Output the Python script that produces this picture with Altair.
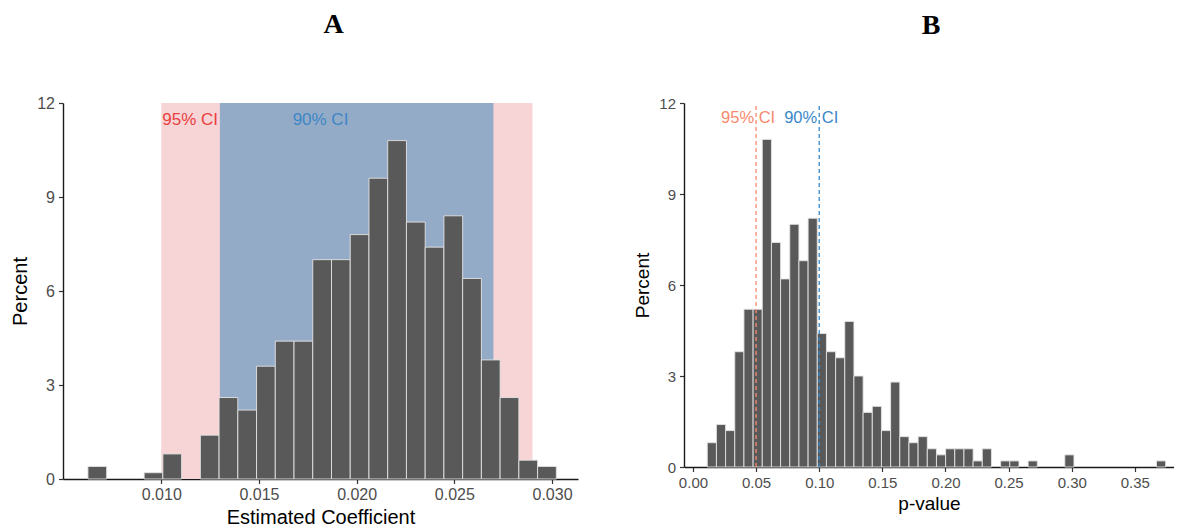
import altair as alt
import pandas as pd

# ---------------- Panel A: estimated coefficient ----------------
a_bin_start = 0.006246
a_bin_width = 0.000959
a_percent = [0.4, 0.0, 0.0, 0.2, 0.8, 0.0, 1.4, 2.6, 2.2, 3.6, 4.4, 4.4, 7.0,
             7.0, 7.8, 9.6, 10.8, 8.2, 7.4, 8.4, 6.4, 3.8, 2.6, 0.6, 0.4]
a_ci_labels = ["95% CI", "90% CI"]
a_ci_low = [0.010, 0.013]
a_ci_high = [0.029, 0.027]
a_ci_fill = ["#F7D4D5", "#94ABC8"]
a_ci_text_color = ["#E8413F", "#3D87C5"]
a_ci_text_x = [0.010, 0.01815]
a_x_ticks = [0.010, 0.015, 0.020, 0.025, 0.030]
a_x_domain = [0.00497, 0.03133]

# ---------------- Panel B: p-value ----------------
b_bin_start = 0.01133
b_bin_width = 0.007261
b_percent = [0.8, 1.4, 1.2, 3.8, 5.2, 5.2, 10.8, 7.4, 6.2, 8.0, 6.8, 8.2, 4.4,
             3.8, 3.6, 4.8, 3.0, 1.8, 2.0, 1.2, 2.8, 1.0, 0.8, 1.0, 0.6, 0.4,
             0.6, 0.6, 0.6, 0.2, 0.6, 0.0, 0.2, 0.2, 0.0, 0.2, 0.0, 0.0, 0.0,
             0.4, 0.0, 0.0, 0.0, 0.0, 0.0, 0.0, 0.0, 0.0, 0.0, 0.2]
b_ci_labels = ["95% CI", "90% CI"]
b_ci_cut = [0.05, 0.10]
b_ci_color = ["#F8896E", "#3A88C8"]
b_x_ticks = [0.00, 0.05, 0.10, 0.15, 0.20, 0.25, 0.30, 0.35]
b_x_domain = [-0.0071, 0.381]

y_ticks = [0, 3, 6, 9, 12]
y_max = 12

BAR_FILL = "#595959"
BAR_STROKE = "#E3E3E3"

# ---------- build tables ----------
dfa = pd.DataFrame({
    "lo": [a_bin_start + i * a_bin_width for i in range(len(a_percent))],
    "hi": [a_bin_start + (i + 1) * a_bin_width for i in range(len(a_percent))],
    "pct": a_percent,
})
dfa = dfa[dfa.pct > 0]
dfa["zero"] = 0.0

dfa_ci = pd.DataFrame({"label": a_ci_labels, "lo": a_ci_low, "hi": a_ci_high,
                       "fill": a_ci_fill, "y0": 0.0, "y1": float(y_max)})
dfa_txt = pd.DataFrame({"label": a_ci_labels, "x": a_ci_text_x,
                        "color": a_ci_text_color, "y": 11.45})

dfb = pd.DataFrame({
    "lo": [b_bin_start + i * b_bin_width for i in range(len(b_percent))],
    "hi": [b_bin_start + (i + 1) * b_bin_width for i in range(len(b_percent))],
    "pct": b_percent,
})
dfb = dfb[dfb.pct > 0]
dfb["zero"] = 0.0

dfb_ci = pd.DataFrame({"label": b_ci_labels, "x": b_ci_cut, "color": b_ci_color,
                       "y0": 0.0, "y1": float(y_max), "y": 11.5})

# ---------- Panel A ----------
a_xscale = alt.Scale(domain=a_x_domain, nice=False, zero=False)
a_yscale = alt.Scale(domain=[0, y_max], nice=False)
a_xaxis = alt.Axis(values=a_x_ticks, format=".3f", title="Estimated Coefficient",
                   labelFontSize=16, titleFontSize=20, labelPadding=3,
                   titlePadding=5)
a_yaxis = alt.Axis(values=y_ticks, title="Percent", labelFontSize=16,
                   titleFontSize=20, labelPadding=4, titlePadding=6)

a_shade = alt.Chart(dfa_ci).mark_rect().encode(
    x=alt.X("lo:Q", scale=a_xscale, axis=a_xaxis),
    x2="hi:Q",
    y=alt.Y("y0:Q", scale=a_yscale, axis=a_yaxis),
    y2="y1:Q",
    color=alt.Color("fill:N", scale=None),
)
a_bars = alt.Chart(dfa).mark_rect(fill=BAR_FILL, stroke=BAR_STROKE,
                                  strokeWidth=0.9).encode(
    x=alt.X("lo:Q", scale=a_xscale, axis=a_xaxis),
    x2="hi:Q",
    y=alt.Y("pct:Q", scale=a_yscale, axis=a_yaxis),
    y2="zero:Q",
)
a_text_left = alt.Chart(dfa_txt.iloc[[0]]).mark_text(
    align="left", baseline="middle", fontSize=17, font="Liberation Sans",
    dx=1).encode(
    x=alt.X("x:Q", scale=a_xscale),
    y=alt.Y("y:Q", scale=a_yscale),
    text="label:N",
    color=alt.Color("color:N", scale=None),
)
a_text_mid = alt.Chart(dfa_txt.iloc[[1]]).mark_text(
    align="center", baseline="middle", fontSize=17,
    font="Liberation Sans").encode(
    x=alt.X("x:Q", scale=a_xscale),
    y=alt.Y("y:Q", scale=a_yscale),
    text="label:N",
    color=alt.Color("color:N", scale=None),
)
panel_a = alt.layer(a_shade, a_bars, a_text_left, a_text_mid).properties(
    width=515, height=376,
    title=alt.TitleParams("A", dx=13),
)

# ---------- Panel B ----------
b_xscale = alt.Scale(domain=b_x_domain, nice=False, zero=False)
b_yscale = alt.Scale(domain=[0, y_max], nice=False)
b_xaxis = alt.Axis(values=b_x_ticks, format=".2f", title="p-value",
                   labelFontSize=15, titleFontSize=19, labelPadding=4,
                   titlePadding=4)
b_yaxis = alt.Axis(values=y_ticks, title="Percent", labelFontSize=15,
                   titleFontSize=19, labelPadding=4, titlePadding=6)

b_bars = alt.Chart(dfb).mark_rect(fill=BAR_FILL, stroke=BAR_STROKE,
                                  strokeWidth=0.9).encode(
    x=alt.X("lo:Q", scale=b_xscale, axis=b_xaxis),
    x2="hi:Q",
    y=alt.Y("pct:Q", scale=b_yscale, axis=b_yaxis),
    y2="zero:Q",
)
b_lines = alt.Chart(dfb_ci).mark_rule(strokeDash=[4, 3], strokeWidth=1.3).encode(
    x=alt.X("x:Q", scale=b_xscale),
    y=alt.Y("y0:Q", scale=b_yscale),
    y2="y1:Q",
    color=alt.Color("color:N", scale=None),
)
b_text = alt.Chart(dfb_ci).mark_text(
    align="center", baseline="middle", fontSize=16.5, font="Liberation Sans",
    dx=-8).encode(
    x=alt.X("x:Q", scale=b_xscale),
    y=alt.Y("y:Q", scale=b_yscale),
    text="label:N",
    color=alt.Color("color:N", scale=None),
)
panel_b = alt.layer(b_bars, b_lines, b_text).properties(
    width=490, height=364,
    title=alt.TitleParams("B", dx=2),
)

chart = alt.hconcat(panel_a, panel_b, spacing=55).properties(
    padding={"left": 2, "top": 3, "right": 0, "bottom": 0},
    background="white",
).configure_view(stroke=None).configure_axis(
    grid=False,
    domainColor="#1a1a1a",
    domainWidth=1.4,
    tickColor="#333333",
    tickWidth=1.2,
    tickSize=4.5,
    labelColor="#4D4D4D",
    labelFont="Liberation Sans",
    titleFont="Liberation Sans",
    titleFontWeight="normal",
    titleColor="#000000",
).configure_title(
    font="Liberation Serif",
    fontWeight="bold",
    fontSize=28,
    anchor="middle",
    offset=56,
    color="#000000",
)

chart.save("out.html", embed_options={"renderer": "svg", "actions": False})
